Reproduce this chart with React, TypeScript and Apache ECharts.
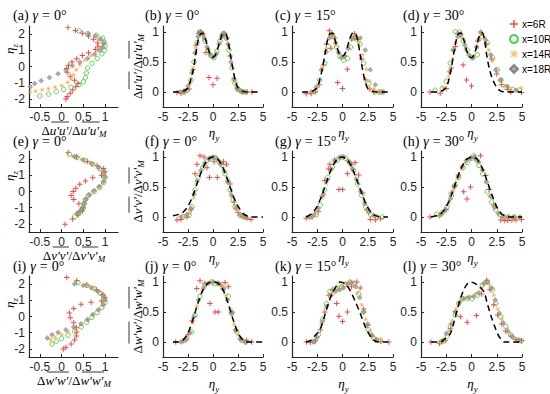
import React, { useEffect, useRef } from 'react';
import * as echarts from 'echarts';

// ---------- data ----------
// column (a),(e),(i): [value, eta_z]; other panels: [eta_y, value]
const A_6R = [[0.15,2.4],[0.32,2.22],[0.48,2.05],[0.62,1.88],[0.74,1.68],[0.83,1.45],[0.84,1.22],[0.78,1.05],[0.62,0.85],[0.48,0.68],[0.35,0.48],[0.24,0.28],[0.16,0.08],[0.12,-0.12],[0.13,-0.35],[0.2,-0.6],[0.3,-0.85],[0.38,-1.05],[0.33,-1.25],[0.26,-1.45],[0.2,-1.65],[0.13,-1.85],[0.1,-2.0]];
const A_10R = [[0.4,2.2],[0.6,2.02],[0.8,1.92],[0.95,1.75],[0.98,1.5],[1.0,1.25],[0.99,1.0],[0.93,0.78],[0.82,0.5],[0.7,0.2],[0.6,-0.1],[0.57,-0.4],[0.55,-0.7],[0.5,-0.95],[0.4,-1.12],[0.22,-1.28],[0.05,-1.42],[-0.12,-1.55],[-0.3,-1.7],[-0.5,-1.82]];
const A_14R = [[0.85,1.65],[0.95,1.4],[0.92,1.15],[0.82,0.95],[0.68,0.68],[0.53,0.38],[0.42,0.1],[0.34,-0.2],[0.28,-0.5],[0.22,-0.75],[0.14,-0.98],[0.0,-1.18],[-0.15,-1.28],[-0.3,-1.36],[-0.45,-1.44],[-0.6,-1.52],[-0.72,-1.58]];
const A_18R = [[0.62,2.02],[0.78,1.9],[0.9,1.7],[0.98,1.45],[0.95,1.2],[0.88,1.02],[0.76,0.75],[0.6,0.5],[0.42,0.27],[0.25,0.05],[0.1,-0.22],[-0.08,-0.45],[-0.28,-0.68],[-0.47,-0.88],[-0.62,-1.05],[-0.72,-1.25]];

const B_MODEL = [[-4,0],[-3.5,0],[-3,0.01],[-2.5,0.07],[-2,0.35],[-1.75,0.6],[-1.5,0.85],[-1.25,0.97],[-1,0.98],[-0.75,0.88],[-0.5,0.73],[-0.25,0.62],[0,0.58],[0.25,0.62],[0.5,0.74],[0.75,0.88],[1,0.97],[1.25,0.97],[1.5,0.85],[1.75,0.62],[2,0.37],[2.25,0.18],[2.5,0.07],[3,0.01],[3.5,0],[4,0],[4.5,0]];
const B_6R = [[-3.6,-0.01],[-3.2,-0.02],[-2.8,0],[-2.4,0.05],[-2,0.37],[-1.7,0.78],[-1.45,0.98],[-1.25,1.0],[-1,0.95],[-0.7,0.66],[-0.4,0.24],[0,0.12],[0.4,0.23],[0.9,0.92],[1.1,0.98],[1.4,0.9],[1.7,0.6],[2.1,0.2],[2.4,0.05],[2.9,0],[3.4,0],[3.9,0]];
const B_10R = [[-3,0],[-2.6,0.03],[-2.2,0.2],[-1.9,0.5],[-1.6,0.82],[-1.35,1.0],[-1.1,0.98],[-0.8,0.85],[-0.5,0.7],[-0.2,0.6],[0.1,0.57],[0.4,0.68],[0.7,0.85],[1.0,0.97],[1.3,0.9],[1.6,0.7],[1.9,0.4],[2.2,0.15],[2.5,0.05],[2.9,0.01],[3.3,0]];
const B_14R = [[-3.1,0],[-2.7,0.02],[-2.3,0.15],[-2.0,0.4],[-1.7,0.72],[-1.4,0.95],[-1.15,0.99],[-0.85,0.88],[-0.55,0.72],[-0.25,0.62],[0.05,0.58],[0.35,0.65],[0.65,0.82],[0.95,0.95],[1.25,0.94],[1.55,0.75],[1.85,0.45],[2.15,0.18],[2.45,0.06],[2.8,0.01],[3.2,0]];
const B_18R = [[-3.3,0],[-2.9,0.02],[-2.5,0.1],[-2.1,0.32],[-1.8,0.65],[-1.5,0.92],[-1.2,1.0],[-0.9,0.9],[-0.6,0.75],[-0.3,0.63],[0,0.58],[0.3,0.63],[0.6,0.8],[0.9,0.95],[1.2,0.97],[1.5,0.8],[1.8,0.5],[2.1,0.22],[2.4,0.08],[2.7,0.02],[3.1,0]];

const C_MODEL = [[-4,0],[-3.5,0],[-3,0.01],[-2.5,0.08],[-2,0.38],[-1.75,0.62],[-1.5,0.85],[-1.25,0.97],[-1,0.98],[-0.75,0.88],[-0.5,0.72],[-0.25,0.62],[0,0.6],[0.25,0.64],[0.5,0.76],[0.75,0.9],[1,0.98],[1.25,0.98],[1.5,0.86],[1.75,0.62],[2,0.36],[2.25,0.17],[2.5,0.06],[3,0.01],[3.5,0],[4,0],[4.5,0]];
const C_6R = [[-3.6,-0.03],[-3.1,-0.03],[-2.7,0],[-2.3,0.12],[-1.9,0.45],[-1.6,0.8],[-1.3,1.02],[-1.15,0.73],[-0.8,0.9],[-0.48,0.16],[0,0.06],[0.48,0.38],[0.9,0.9],[1.2,0.97],[1.5,0.88],[1.9,0.55],[2.3,0.2],[2.7,0.05],[3.1,0],[3.6,0],[4.1,0]];
const C_10R = [[-2.7,0.02],[-2.25,0.2],[-1.75,0.48],[-1.4,0.76],[-1.1,0.95],[-0.9,0.92],[-0.6,0.75],[-0.25,0.59],[0.1,0.53],[0.5,0.56],[0.8,0.75],[1.1,0.9],[1.4,0.88],[1.75,0.8],[2.1,0.48],[2.6,0.14],[3.25,0],[3.8,0]];
const C_14R = [[-2.9,0],[-2.4,0.12],[-2.0,0.4],[-1.6,0.72],[-1.25,0.95],[-0.95,0.95],[-0.65,0.78],[-0.35,0.64],[0,0.56],[0.3,0.6],[0.65,0.74],[1.0,0.9],[1.3,0.92],[1.65,0.82],[2.0,0.62],[2.35,0.38],[2.7,0.18],[3.1,0.05],[3.6,0.01]];
const C_18R = [[-3.1,0],[-2.6,0.08],[-2.1,0.37],[-1.6,0.67],[-1.3,0.9],[-1.0,0.97],[-0.7,0.82],[-0.4,0.66],[-0.1,0.58],[0.2,0.6],[0.55,0.72],[0.9,0.88],[1.25,0.93],[1.75,0.9],[2.25,0.7],[2.75,0.37],[3.25,0.12],[3.9,0.0]];

const D_MODEL = [[-4,0],[-3.5,0],[-3,0.01],[-2.5,0.08],[-2.25,0.2],[-2,0.4],[-1.75,0.65],[-1.5,0.87],[-1.25,0.98],[-1,0.98],[-0.75,0.86],[-0.5,0.7],[-0.25,0.6],[0,0.57],[0.25,0.62],[0.5,0.75],[0.75,0.92],[1,0.99],[1.25,0.9],[1.5,0.62],[1.75,0.4],[2,0.25],[2.25,0.15],[2.5,0.08],[2.75,0.03],[3,0.01],[3.5,0],[4,0],[4.5,0],[5,0]];
const D_6R = [[-4.1,0.0],[-3.1,-0.02],[-2.5,0.06],[-2.0,0.4],[-1.6,0.76],[-1.37,0.98],[-1.1,0.96],[-0.83,0.45],[-0.5,0.2],[0.0,0.1],[0.6,0.85],[1.0,0.98],[1.5,0.8],[2.0,0.55],[2.5,0.3],[3.0,0.12],[3.6,0.04],[3.9,0.0],[4.95,-0.01]];
const D_10R = [[-3.6,0.03],[-2.9,0.06],[-2.5,0.18],[-2.1,0.48],[-1.8,0.7],[-1.6,1.0],[-1.2,1.0],[-0.8,0.85],[-0.43,0.7],[0.07,0.57],[0.57,0.62],[1.07,0.93],[1.57,0.82],[2.07,0.57],[2.57,0.37],[2.9,0.2],[3.4,0.08],[4.07,0.04],[4.73,0.03]];
const D_14R = [[-2.77,0.07],[-2.27,0.26],[-1.9,0.55],[-1.6,0.82],[-1.3,0.98],[-0.95,0.9],[-0.6,0.72],[-0.2,0.6],[0.2,0.6],[0.55,0.75],[0.95,0.97],[1.3,0.9],[1.7,0.7],[2.1,0.52],[2.5,0.35],[2.9,0.2],[3.4,0.1],[3.9,0.05],[4.5,0.03],[4.95,0.07]];
const D_18R = [[-2.17,0.34],[-1.77,0.7],[-1.37,0.92],[-1.05,0.95],[-0.65,0.78],[-0.27,0.62],[0.17,0.57],[0.5,0.75],[0.73,0.87],[0.9,1.0],[1.4,0.87],[1.9,0.62],[2.4,0.37],[2.9,0.2],[3.57,0.09],[4.4,0.03]];

const E_6R = [[0.15,2.4],[0.35,2.15],[0.6,1.85],[0.82,1.6],[0.97,1.42],[1.0,1.22],[0.92,1.0],[0.72,0.85],[0.55,0.65],[0.42,0.45],[0.33,0.2],[0.27,0.0],[0.22,-0.25],[0.28,-0.5],[0.4,-0.75],[0.5,-1.0],[0.48,-1.2],[0.38,-1.45],[0.25,-1.7],[0.08,-2.02]];
const E_10R = [[0.18,2.3],[0.35,2.1],[0.55,1.9],[0.72,1.68],[0.87,1.42],[0.97,1.15],[1.0,0.85],[0.97,0.55],[0.88,0.25],[0.75,0.0],[0.62,-0.25],[0.55,-0.5],[0.52,-0.75],[0.5,-1.0],[0.45,-1.2],[0.38,-1.38],[0.3,-1.55]];
const E_14R = [[0.25,2.2],[0.45,2.0],[0.65,1.78],[0.82,1.52],[0.94,1.25],[1.0,0.95],[0.98,0.65],[0.9,0.35],[0.78,0.08],[0.66,-0.18],[0.57,-0.45],[0.53,-0.7],[0.5,-0.95],[0.44,-1.15],[0.38,-1.32]];
const E_18R = [[0.3,2.15],[0.5,1.95],[0.7,1.72],[0.86,1.48],[0.96,1.2],[1.0,0.9],[0.96,0.6],[0.86,0.3],[0.74,0.05],[0.63,-0.2],[0.56,-0.48],[0.52,-0.75],[0.48,-1.0],[0.42,-1.2],[0.36,-1.35]];

const F_MODEL = [[-4,0.02],[-3.5,0.04],[-3,0.08],[-2.5,0.18],[-2,0.36],[-1.5,0.6],[-1,0.82],[-0.5,0.96],[0,1.0],[0.5,0.96],[1,0.82],[1.5,0.6],[2,0.36],[2.5,0.18],[3,0.06],[3.5,0.01],[4,0],[4.5,0],[5,0]];
const F_6R = [[-3.6,-0.05],[-3.2,-0.04],[-2.6,0.0],[-2.2,0.12],[-1.8,0.72],[-1.6,0.88],[-1.3,1.02],[-0.9,1.0],[-0.6,0.82],[-0.35,0.66],[0.1,0.92],[0.43,0.66],[0.8,0.9],[1.05,0.92],[1.35,0.88],[1.7,0.55],[2.1,0.25],[2.5,0.08],[3.0,0.0],[3.4,-0.02],[3.8,-0.04]];
const F_10R = [[-3.0,0.0],[-2.4,0.03],[-2.1,0.17],[-1.8,0.45],[-1.5,0.66],[-1.0,0.83],[-0.6,0.94],[-0.3,0.97],[0.2,0.99],[0.6,0.92],[0.9,0.86],[1.2,0.72],[1.5,0.6],[1.7,0.45],[2.0,0.28],[2.2,0.17],[2.7,0.03],[3.2,0.0]];
const F_14R = [[-2.8,0.02],[-2.3,0.08],[-1.95,0.32],[-1.65,0.56],[-1.3,0.74],[-0.9,0.88],[-0.5,0.96],[-0.1,1.0],[0.3,0.98],[0.7,0.9],[1.05,0.8],[1.4,0.64],[1.8,0.4],[2.2,0.18],[2.6,0.05],[3.0,0.0]];
const F_18R = [[-3.2,0.0],[-2.6,0.04],[-2.2,0.14],[-1.9,0.38],[-1.6,0.6],[-1.2,0.78],[-0.8,0.9],[-0.4,0.97],[0.0,1.0],[0.4,0.97],[0.8,0.88],[1.15,0.76],[1.5,0.58],[1.85,0.36],[2.3,0.14],[2.8,0.03],[3.3,0.0]];

const G_MODEL = [[-3.6,0],[-3,0.06],[-2.5,0.18],[-2,0.38],[-1.5,0.62],[-1,0.84],[-0.5,0.97],[-0.1,1.0],[0.5,0.95],[1,0.8],[1.5,0.58],[2,0.35],[2.5,0.16],[3,0.05],[3.5,0.01],[4,0],[4.5,0]];
const G_6R = [[-3.6,-0.02],[-3.0,0.0],[-2.4,0.09],[-2.0,0.35],[-1.75,0.61],[-1.4,0.8],[-1.25,0.88],[-0.8,0.95],[-0.35,0.46],[0.0,0.46],[0.48,0.72],[0.9,0.88],[1.25,0.91],[1.6,0.7],[2.0,0.4],[2.4,0.12],[2.75,-0.04],[3.25,-0.05],[3.75,-0.03]];
const G_10R = [[-3.2,0.0],[-2.6,0.04],[-2.2,0.2],[-1.8,0.45],[-1.45,0.66],[-1.0,0.84],[-0.5,0.95],[-0.1,1.0],[0.3,0.98],[0.7,0.9],[1.1,0.78],[1.5,0.55],[1.9,0.36],[2.3,0.17],[2.8,0.04],[3.4,0.0],[3.95,0.0]];
const G_14R = [[-3.0,0.01],[-2.5,0.08],[-2.0,0.32],[-1.6,0.56],[-1.2,0.78],[-0.8,0.92],[-0.35,0.98],[0.05,1.0],[0.5,0.95],[0.9,0.84],[1.3,0.66],[1.7,0.46],[2.1,0.26],[2.5,0.11],[3.0,0.03],[3.5,0.0]];
const G_18R = [[-3.3,0.0],[-2.8,0.04],[-2.4,0.14],[-1.9,0.38],[-1.5,0.62],[-1.1,0.8],[-0.7,0.93],[-0.3,0.99],[0.1,1.0],[0.6,0.93],[1.0,0.8],[1.4,0.62],[1.8,0.42],[2.2,0.22],[2.6,0.08],[3.1,0.02]];

const H_MODEL = [[-4,0],[-3.5,0.02],[-3,0.06],[-2.5,0.17],[-2,0.36],[-1.5,0.6],[-1,0.82],[-0.5,0.96],[0.1,1.0],[0.5,0.97],[1,0.84],[1.5,0.62],[2,0.38],[2.5,0.17],[3,0.05],[3.5,0.01],[4,0],[4.5,0],[5,0]];
const H_6R = [[-4.1,0.0],[-3.2,0.02],[-2.5,0.12],[-2.0,0.4],[-1.6,0.53],[-1.3,0.7],[-0.77,0.42],[-0.45,0.3],[-0.1,0.5],[0.35,0.98],[0.9,1.02],[1.4,0.69],[1.73,0.46],[2.2,0.2],[2.9,-0.05],[3.3,-0.06],[3.6,-0.06],[4.0,-0.05],[4.4,-0.05],[4.95,-0.04]];
const H_10R = [[-3.43,0.05],[-2.93,0.07],[-2.43,0.17],[-2.0,0.35],[-1.7,0.52],[-1.27,0.66],[-0.85,0.82],[-0.43,0.91],[0.0,0.98],[0.23,1.02],[0.5,0.95],[0.73,0.86],[1.1,0.72],[1.57,0.42],[2.0,0.25],[2.4,0.12],[2.8,0.04],[3.23,0.0],[3.7,0.0],[4.23,0.0]];
const H_14R = [[-3.2,0.02],[-2.7,0.08],[-2.2,0.24],[-1.8,0.45],[-1.4,0.64],[-1.0,0.8],[-0.6,0.9],[-0.2,0.97],[0.2,1.0],[0.6,0.94],[1.0,0.8],[1.4,0.6],[1.8,0.36],[2.2,0.18],[2.6,0.06],[3.0,-0.01],[3.5,-0.02],[4.0,-0.02],[4.6,-0.01]];
const H_18R = [[-3.0,0.04],[-2.6,0.12],[-2.1,0.3],[-1.7,0.5],[-1.3,0.68],[-0.9,0.84],[-0.5,0.94],[-0.1,0.98],[0.3,1.0],[0.7,0.92],[1.1,0.78],[1.5,0.58],[1.9,0.34],[2.3,0.16],[2.7,0.06],[3.1,0.01],[3.6,0.0],[4.2,0.0],[4.8,0.0]];

const I_6R = [[0.12,2.4],[0.35,2.2],[0.58,1.95],[0.8,1.65],[0.95,1.38],[1.0,1.15],[0.92,0.95],[0.68,0.88],[0.45,0.75],[0.28,0.5],[0.18,0.22],[0.2,-0.08],[0.28,-0.38],[0.34,-0.7],[0.35,-0.95],[0.34,-1.2],[0.3,-1.45],[0.22,-1.7],[0.1,-1.9],[0.04,-2.0]];
const I_10R = [[0.38,2.1],[0.58,1.92],[0.75,1.72],[0.88,1.45],[0.98,1.18],[1.0,0.88],[0.93,0.55],[0.82,0.25],[0.7,-0.05],[0.58,-0.35],[0.45,-0.65],[0.3,-0.92],[0.15,-1.15],[0.0,-1.35],[-0.12,-1.52],[-0.22,-1.7]];
const I_14R = [[0.55,1.95],[0.72,1.78],[0.86,1.55],[0.96,1.28],[1.0,1.0],[0.95,0.7],[0.84,0.4],[0.72,0.1],[0.6,-0.2],[0.45,-0.5],[0.3,-0.75],[0.15,-0.95],[0.0,-1.12],[-0.15,-1.28],[-0.25,-1.42]];
const I_18R = [[0.3,2.0],[0.5,1.92],[0.68,1.78],[0.84,1.55],[0.95,1.3],[1.0,1.02],[0.96,0.72],[0.85,0.42],[0.72,0.12],[0.6,-0.18],[0.45,-0.45],[0.28,-0.65],[0.1,-0.82],[-0.08,-0.98],[-0.22,-1.12],[-0.33,-1.32]];

const J_MODEL = [[-4,0],[-3.5,0.0],[-3,0.03],[-2.5,0.15],[-2,0.38],[-1.5,0.65],[-1,0.87],[-0.5,0.98],[0,1.0],[0.5,0.98],[1,0.87],[1.5,0.65],[2,0.38],[2.5,0.15],[3,0.03],[3.5,0],[4,0],[4.5,0],[5,0]];
const J_6R = [[-3.73,0.0],[-3.0,0.02],[-2.5,0.12],[-2.1,0.35],[-1.63,0.89],[-1.3,1.02],[-0.8,0.98],[-0.3,0.64],[0.2,0.5],[0.53,0.5],[0.8,0.95],[1.2,0.99],[1.53,0.92],[1.9,0.5],[2.3,0.2],[2.8,0.05],[3.37,0.03],[3.87,0.0]];
const J_10R = [[-2.8,0.03],[-2.13,0.17],[-1.8,0.45],[-1.3,0.76],[-0.8,0.95],[-0.13,1.0],[0.2,0.97],[0.53,0.98],[1.03,0.89],[1.53,0.76],[1.87,0.48],[2.37,0.17],[2.87,0.03],[3.3,0.0]];
const J_14R = [[-3.0,0.01],[-2.5,0.06],[-2.0,0.32],[-1.6,0.6],[-1.1,0.85],[-0.6,0.97],[-0.1,1.0],[0.4,0.98],[0.9,0.9],[1.3,0.78],[1.7,0.55],[2.1,0.3],[2.5,0.12],[3.0,0.02]];
const J_18R = [[-3.2,0.0],[-2.7,0.04],[-2.3,0.16],[-1.9,0.42],[-1.45,0.7],[-0.95,0.9],[-0.45,0.98],[0.05,1.0],[0.55,0.97],[1.05,0.88],[1.45,0.7],[1.85,0.48],[2.25,0.2],[2.7,0.05],[3.2,0.0]];

const K_MODEL = [[-3.6,0],[-3.1,0.03],[-2.75,0.1],[-2.25,0.2],[-1.8,0.42],[-1.4,0.64],[-1,0.82],[-0.5,0.96],[-0.25,1.0],[0.25,0.97],[0.75,0.86],[1.25,0.68],[1.75,0.48],[2.1,0.32],[2.4,0.2],[2.75,0.1],[3.1,0.03],[3.5,0],[4,0],[4.5,0]];
const K_6R = [[-3.58,0.0],[-3.18,-0.01],[-2.7,0.02],[-2.2,0.2],[-1.75,0.5],[-1.35,0.78],[-0.95,0.86],[-0.58,0.64],[-0.35,0.43],[0.0,0.34],[0.48,0.5],[0.9,0.92],[1.42,1.0],[1.75,0.9],[2.1,0.55],[2.5,0.28],[2.9,0.1],[3.25,0.03],[3.8,0.01],[4.58,0.0]];
const K_10R = [[-2.8,0.01],[-2.4,0.12],[-1.95,0.38],[-1.6,0.64],[-1.25,0.84],[-0.9,0.88],[-0.5,0.9],[-0.1,0.92],[0.3,0.96],[0.75,1.0],[1.2,0.98],[1.6,0.8],[2.08,0.5],[2.6,0.2],[3.1,0.06],[3.75,0.03]];
const K_14R = [[-2.6,0.06],[-2.1,0.3],[-1.7,0.58],[-1.3,0.78],[-0.9,0.86],[-0.5,0.9],[-0.1,0.94],[0.3,0.98],[0.7,1.0],[1.1,0.96],[1.5,0.82],[1.9,0.62],[2.3,0.38],[2.7,0.18],[3.2,0.05],[3.7,0.01]];
const K_18R = [[-2.9,0.0],[-2.5,0.08],[-2.0,0.34],[-1.55,0.6],[-1.1,0.78],[-0.7,0.84],[-0.3,0.87],[0.1,0.9],[0.5,0.96],[0.9,0.99],[1.3,0.92],[1.7,0.74],[2.1,0.5],[2.5,0.3],[2.9,0.12],[3.4,0.04]];

const L_MODEL = [[-4,0],[-3.1,0.0],[-2.6,0.06],[-2.1,0.14],[-1.75,0.32],[-1.43,0.53],[-1.1,0.72],[-0.77,0.87],[-0.4,0.97],[-0.1,1.0],[0.3,0.98],[0.8,0.92],[1.23,0.84],[1.55,0.65],[1.9,0.45],[2.25,0.28],[2.57,0.14],[2.9,0.05],[3.23,0.0],[4,0],[5,0]];
const L_6R = [[-4.03,0.0],[-3.17,-0.02],[-2.6,0.03],[-2.1,0.22],[-1.6,0.51],[-1.1,0.42],[-0.43,0.33],[0.5,0.44],[1.0,0.8],[1.5,1.03],[1.83,0.87],[2.2,0.62],[2.6,0.45],[3.0,0.3],[3.4,0.18],[3.9,0.1],[4.4,0.04],[4.95,0.02]];
const L_10R = [[-3.0,0.0],[-2.7,0.02],[-2.4,0.1],[-2.1,0.26],[-1.6,0.45],[-1.27,0.64],[-0.93,0.73],[-0.43,0.72],[0.07,0.72],[0.57,0.78],[1.07,0.95],[1.57,1.0],[2.07,0.87],[2.4,0.64],[2.9,0.42],[3.4,0.26],[3.9,0.12],[4.57,0.03],[4.95,0.02]];
const L_14R = [[-3.2,0.0],[-2.8,0.04],[-2.3,0.18],[-1.9,0.36],[-1.5,0.55],[-1.1,0.68],[-0.6,0.74],[-0.1,0.76],[0.4,0.8],[0.9,0.9],[1.3,0.98],[1.8,0.95],[2.2,0.78],[2.6,0.55],[3.0,0.38],[3.5,0.22],[4.0,0.1],[4.6,0.04]];
const L_18R = [[-2.9,0.02],[-2.5,0.14],[-2.0,0.3],[-1.6,0.5],[-1.2,0.66],[-0.8,0.72],[-0.3,0.74],[0.2,0.76],[0.7,0.82],[1.2,0.97],[1.6,1.0],[2.0,0.9],[2.35,0.7],[2.75,0.48],[3.15,0.32],[3.6,0.18],[4.1,0.08],[4.7,0.03]];

const PANEL_LETTERS = ['a','b','c','d','e','f','g','h','i','j','k','l'];
const PANEL_GAMMA = ['0','0','15','30','0','0','15','30','0','0','15','30'];
const ROW_COMPONENT = ['u','v','w'];
const SERIES_NAMES = ['x=6R','x=10R','x=14R','x=18R'];
const DATA_6R = [A_6R,B_6R,C_6R,D_6R,E_6R,F_6R,G_6R,H_6R,I_6R,J_6R,K_6R,L_6R];
const DATA_10R = [A_10R,B_10R,C_10R,D_10R,E_10R,F_10R,G_10R,H_10R,I_10R,J_10R,K_10R,L_10R];
const DATA_14R = [A_14R,B_14R,C_14R,D_14R,E_14R,F_14R,G_14R,H_14R,I_14R,J_14R,K_14R,L_14R];
const DATA_18R = [A_18R,B_18R,C_18R,D_18R,E_18R,F_18R,G_18R,H_18R,I_18R,J_18R,K_18R,L_18R];
const MODELS = [null,B_MODEL,C_MODEL,D_MODEL,null,F_MODEL,G_MODEL,H_MODEL,null,J_MODEL,K_MODEL,L_MODEL];
const ETA_Z_TICKS = [-2,-1,0,1,2];
const PROFILE_X_TICKS = [-0.5,0,0.5,1];
const ETA_Y_TICKS = [-5,-2.5,0,2.5,5];
const VALUE_TICKS = [0,0.5,1];

// ---------- layout / style ----------
const COL_LEFT = [29,163,292,421];
const COL_WIDTH = [89,100,101,101];
const ROW_TOP = [26,151,276];
const PLOT_H = 81;
const RED = '#f01c1c';
const GREEN = '#1ec41e';
const ORANGE = '#ffa030';
const GRAY = '#969696';
const AXIS = '#262626';
const SERIF = '"Liberation Serif", "DejaVu Serif", serif';
const SANS = '"Liberation Sans", Arial, sans-serif';

const PLUS = 'path://M4.1,0H5.9V4.1H10V5.9H5.9V10H4.1V5.9H0V4.1H4.1Z';
const STAR = 'path://M4.4,0H5.6V10H4.4Z M0,4.4H10V5.6H0Z M1.6,0.8L9.2,8.4L8.4,9.2L0.8,1.6Z M8.4,0.8L9.2,1.6L1.6,9.2L0.8,8.4Z';

const NAME_FS = 13;
const SUB_FS = 9;
const TITLE_FS = 14;

let measureCtx: CanvasRenderingContext2D | null = null;
function textWidth(t: string, size: number, italic: boolean) {
  if (!measureCtx) measureCtx = document.createElement('canvas').getContext('2d');
  if (!measureCtx) return t.length * size * 0.5;
  measureCtx.font = `${italic ? 'italic ' : ''}${size}px ${SERIF}`;
  return measureCtx.measureText(t).width;
}

// Δ(overline q)/Δ(overline q)_M built from pieces so the bars can be drawn
function ratioLabel(comp: string, cx: number, cy: number, rotated: boolean) {
  const q = comp + '\u2032' + comp + '\u2032';
  const pieces = [
    { t: 'Δ', it: false, bar: false, sub: false },
    { t: q, it: true, bar: true, sub: false },
    { t: '/Δ', it: false, bar: false, sub: false },
    { t: q, it: true, bar: true, sub: false },
    { t: 'M', it: true, bar: false, sub: true },
  ];
  const widths = pieces.map((p) => textWidth(p.t, p.sub ? SUB_FS : NAME_FS, p.it));
  const total = widths.reduce((a, b) => a + b, 0);
  let x = -total / 2;
  const children: any[] = [];
  pieces.forEach((p, k) => {
    children.push({
      type: 'text', x, y: p.sub ? 4 : 0,
      style: {
        text: p.t, fontFamily: SERIF, fontSize: p.sub ? SUB_FS : NAME_FS,
        fontStyle: p.it ? 'italic' : 'normal', fill: '#000', align: 'left', verticalAlign: 'middle',
      },
    });
    if (p.bar) {
      children.push({
        type: 'line', shape: { x1: x + 1.5, y1: -8, x2: x + widths[k] + 0.5, y2: -8 },
        style: { stroke: '#000', lineWidth: 0.8 },
      });
    }
    x += widths[k];
  });
  return { type: 'group', x: cx, y: cy, rotation: rotated ? Math.PI / 2 : 0, children };
}

const etaRich = {
  i: { fontFamily: SERIF, fontSize: NAME_FS, fontStyle: 'italic', fill: '#000', padding: [0, 0, 3, 0], verticalAlign: 'bottom' },
  s: { fontFamily: SERIF, fontSize: SUB_FS, fontStyle: 'italic', fill: '#000', verticalAlign: 'bottom' },
};

const titleRich = {
  n: { fontFamily: SERIF, fontSize: TITLE_FS, fill: '#000' },
  g: { fontFamily: SERIF, fontSize: TITLE_FS, fontStyle: 'italic', fill: '#000', padding: [0, 0, 0, 4] },
  e: { fontFamily: SERIF, fontSize: TITLE_FS, fill: '#000', padding: [0, 4, 0, 4] },
};

export default function App() {
  const ref = useRef<HTMLDivElement>(null);
  useEffect(() => {
    if (!ref.current) return;
    const chart = echarts.init(ref.current, null, { renderer: 'svg' });
    const grid: any[] = [];
    const xAxis: any[] = [];
    const yAxis: any[] = [];
    const series: any[] = [];
    const graphic: any[] = [];

    for (let p = 0; p < 12; p++) {
      const r = Math.floor(p / 4);
      const c = p % 4;
      const prof = c === 0;
      grid.push({ left: COL_LEFT[c], top: ROW_TOP[r], width: COL_WIDTH[c], height: PLOT_H, outerBoundsMode: 'none' });
      const lineStyle = { color: AXIS, width: 1.2 };
      const labelBase = { color: AXIS, fontSize: 12, fontFamily: SANS, formatter: (v: number) => String(v) };
      const xt = prof ? PROFILE_X_TICKS : ETA_Y_TICKS;
      const yt = prof ? ETA_Z_TICKS : VALUE_TICKS;
      xAxis.push({
        type: 'value', gridIndex: p, position: 'bottom',
        min: prof ? -0.75 : -5,
        max: prof ? 1.3 : 5,
        splitLine: { show: false },
        axisLine: { show: true, onZero: false, lineStyle },
        axisTick: { show: true, inside: true, length: 3, customValues: xt, lineStyle: { color: AXIS } },
        axisLabel: { ...labelBase, margin: 4, customValues: xt },
      });
      yAxis.push({
        type: 'value', gridIndex: p, position: 'left',
        min: prof ? -2.5 : -0.25,
        max: prof ? 2.5 : 1.1,
        splitLine: { show: false },
        axisLine: { show: true, onZero: false, lineStyle },
        axisTick: { show: true, inside: true, length: 3, customValues: yt, lineStyle: { color: AXIS } },
        axisLabel: { ...labelBase, margin: 4, customValues: yt },
      });

      const base = { type: 'scatter', xAxisIndex: p, yAxisIndex: p, silent: true };
      series.push({ ...base, name: SERIES_NAMES[0], data: DATA_6R[p], symbol: PLUS, symbolSize: 5.5, itemStyle: { color: RED } });
      series.push({ ...base, name: SERIES_NAMES[1], data: DATA_10R[p], symbol: 'circle', symbolSize: 4.5, itemStyle: { color: 'rgba(0,0,0,0)', borderColor: GREEN, borderWidth: 0.9 } });
      series.push({ ...base, name: SERIES_NAMES[2], data: DATA_14R[p], symbol: STAR, symbolSize: 4.5, itemStyle: { color: ORANGE } });
      series.push({ ...base, name: SERIES_NAMES[3], data: DATA_18R[p], symbol: 'diamond', symbolSize: 5, itemStyle: { color: GRAY, borderColor: '#707070', borderWidth: 0.4 } });
      const m = MODELS[p];
      if (m) {
        series.push({
          type: 'line', name: 'model', xAxisIndex: p, yAxisIndex: p, data: m, symbol: 'none', smooth: 0.3, z: 5,
          lineStyle: { color: '#000', width: 1.5, type: [6, 4] },
        });
      }

      graphic.push({
        type: 'text', x: [13, 145, 275, 403][c], y: [15, 141, 266][r],
        style: {
          text: `{n|(${PANEL_LETTERS[p]})}{g|γ}{e|=}{n|${PANEL_GAMMA[p]}°}`,
          verticalAlign: 'middle', align: 'left', rich: titleRich,
        },
      });
      if (!prof) {
        graphic.push({
          type: 'text', x: COL_LEFT[c] + COL_WIDTH[c] / 2 + 1, y: [134, 259, 385][r],
          style: { text: '{i|η}{s|y}', align: 'center', verticalAlign: 'middle', rich: etaRich },
        });
      }
    }

    for (let r = 0; r < 3; r++) {
      const comp = ROW_COMPONENT[r];
      graphic.push(ratioLabel(comp, 74, [130, 255, 380][r], false));
      graphic.push(ratioLabel(comp, 137, ROW_TOP[r] + PLOT_H / 2, true));
      graphic.push({
        type: 'text', x: 11, y: [49, 176, 303][r], rotation: Math.PI / 2,
        style: { text: '{i|η}{s|z}', align: 'center', verticalAlign: 'middle', rich: etaRich },
      });
    }

    chart.setOption({
      animation: false,
      backgroundColor: '#fff',
      grid, xAxis, yAxis, series, graphic,
      legend: {
        data: SERIES_NAMES,
        orient: 'vertical',
        left: 504,
        top: 14,
        itemWidth: 8,
        itemHeight: 8,
        itemGap: 5,
        selectedMode: false,
        textStyle: { fontFamily: SANS, fontSize: 10, color: '#000', padding: [0, 0, 0, -1] },
      },
    });
    return () => chart.dispose();
  }, []);
  return <div ref={ref} style={{ position: 'fixed', left: 0, top: 0, width: 550, height: 394 }} />;
}
